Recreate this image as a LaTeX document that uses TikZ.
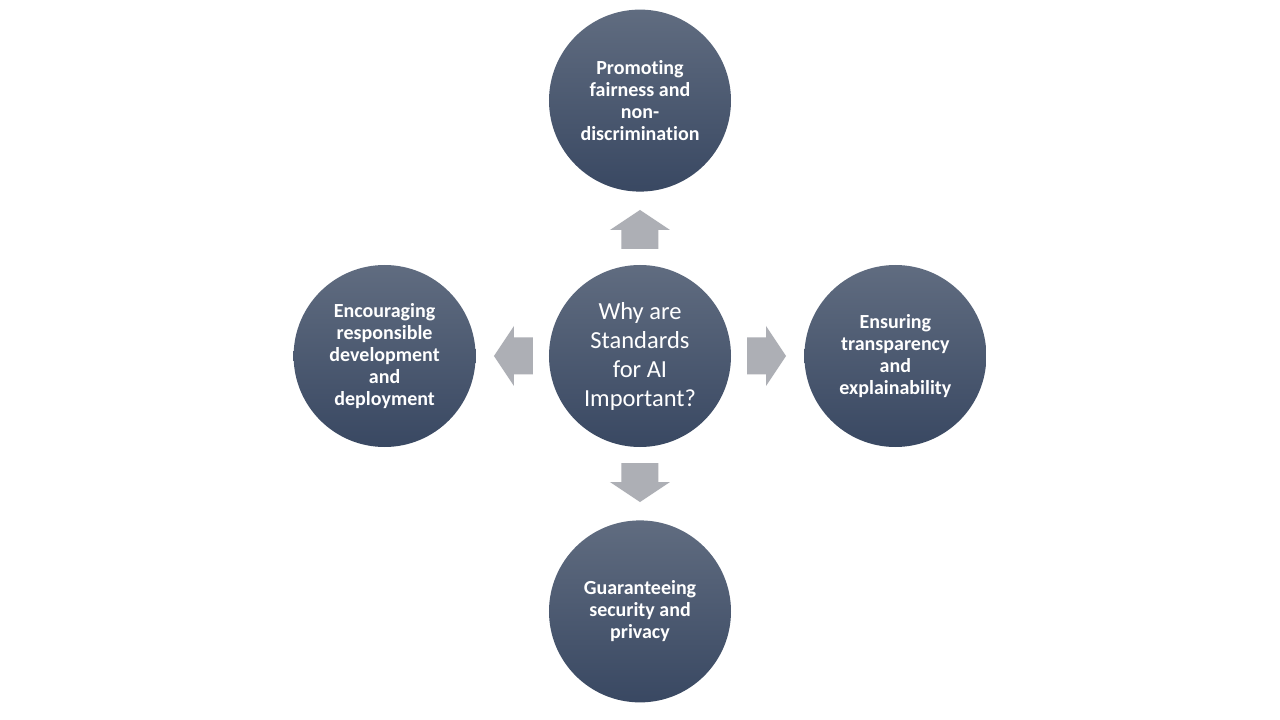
\documentclass[tikz,border=0pt]{standalone}
\usepackage{fontspec}
\setmainfont{Carlito}[Ligatures=NoCommon]
\usetikzlibrary{positioning}
\definecolor{discTop}{HTML}{606C80}
\definecolor{discBot}{HTML}{394862}
\definecolor{arrowGray}{HTML}{ADAFB5}

\begin{document}
\begin{tikzpicture}[
    x=1pt, y=1pt,
    node distance=73pt,
    disc/.style={circle, minimum size=182pt, inner sep=0pt, align=center,
      top color=discTop, bottom color=discBot, draw=none, text=white},
    topic/.style={disc, font=\fontsize{20}{22}\selectfont\bfseries},
    hubdisc/.style={disc, font=\fontsize{24.5}{29}\selectfont},
    blockarrow/.style={fill=arrowGray, draw=none},
  ]
  % ----- canvas -----
  \useasboundingbox[fill=white] (-640,-364) rectangle (640,356);

  % ----- hub and four topics -----
  \node[hubdisc] (hub) at (0,0) {Why are\\Standards\\for AI\\Important?};
  \node[topic, above=of hub] (fair) {Promoting\\fairness and\\non-\\discrimination};
  \node[topic, right=of hub] (transp) {Ensuring\\transparency\\and\\explainability};
  \node[topic, below=of hub] (secure) {Guaranteeing\\security and\\privacy};
  \node[topic, left=of hub] (respons) {Encouraging\\responsible\\development\\and\\deployment};

  % ----- block arrows out of the hub -----
  \foreach \ang in {0,90,180,270}{
    \fill[blockarrow, rotate around={\ang:(hub.center)}]
      ([shift={(107,-18.5)}]hub.center) -- ++(19,0) -- ++(0,-11.5)
      -- ([shift={(146,0)}]hub.center)
      -- ([shift={(126,30)}]hub.center) -- ++(0,-11.5) -- ++(-19,0) -- cycle;
  }
\end{tikzpicture}
\end{document}
